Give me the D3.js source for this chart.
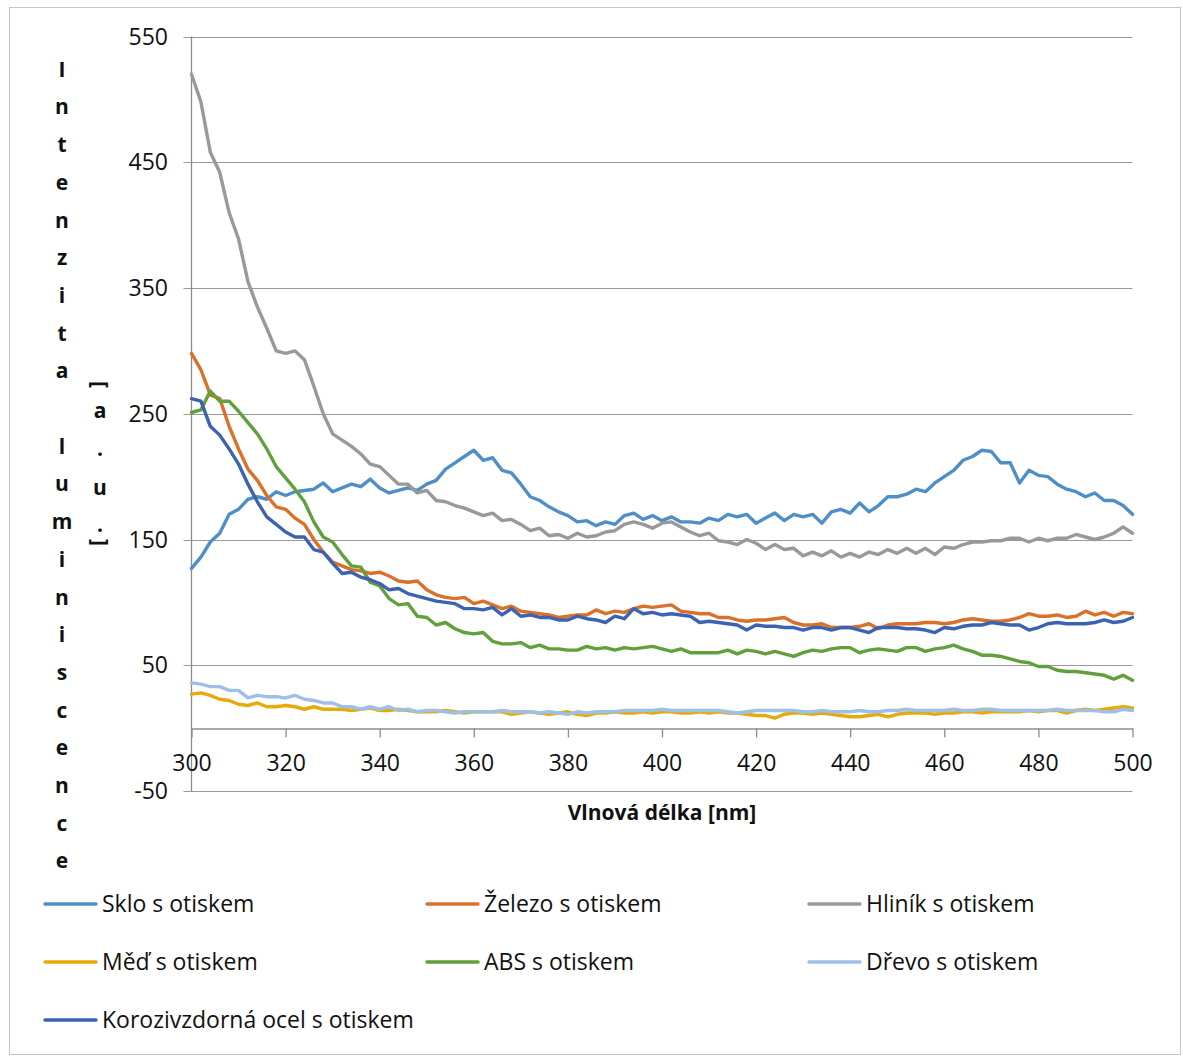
<!DOCTYPE html>
<html><head><meta charset="utf-8">
<script src="https://cdn.jsdelivr.net/npm/d3@7"></script>
<style>
html,body{margin:0;padding:0;background:#fff;}
svg text{font-family:"Open Sans","Noto Sans",sans-serif;}
</style></head>
<body>
<svg id="chart" width="1183" height="1059"></svg>
<script>
const wavelengths = [300,302,304,306,308,310,312,314,316,318,320,322,324,326,328,330,332,334,336,338,340,342,344,346,348,350,352,354,356,358,360,362,364,366,368,370,372,374,376,378,380,382,384,386,388,390,392,394,396,398,400,402,404,406,408,410,412,414,416,418,420,422,424,426,428,430,432,434,436,438,440,442,444,446,448,450,452,454,456,458,460,462,464,466,468,470,472,474,476,478,480,482,484,486,488,490,492,494,496,498,500];

const seriesNames = ["Sklo s otiskem","Železo s otiskem","Hliník s otiskem","Měď s otiskem","ABS s otiskem","Dřevo s otiskem","Korozivzdorná ocel s otiskem"];
const seriesColors = ["#4f8fc8","#d9712b","#999999","#e6ab0a","#62a03b","#9dc0e6","#3c63b0"];

const skloValues = [127,136,148,155,170,174,182,184,182,188,185,188,189,190,195,188,191,194,192,198,191,187,189,191,189,194,197,206,211,216,221,213,215,205,203,194,184,181,176,172,169,164,165,161,164,162,169,171,166,169,165,168,164,164,163,167,165,170,168,170,163,167,171,165,170,168,170,163,172,174,171,179,172,177,184,184,186,190,188,195,200,205,213,216,221,220,211,211,195,205,201,200,194,190,188,184,187,181,181,177,170];
const zelezoValues = [298,285,265,262,240,222,206,197,185,176,174,167,162,150,140,132,129,126,125,123,124,121,117,116,117,110,106,104,103,104,99,101,98,95,97,93,92,91,90,88,89,90,90,94,91,93,92,95,97,96,97,98,93,92,91,91,88,88,86,85,86,86,87,88,84,82,82,83,80,80,80,81,83,79,82,83,83,83,84,84,83,84,86,87,86,85,85,86,88,91,89,89,90,88,89,93,90,92,89,92,91];
const hlinikValues = [520,498,458,442,410,389,355,335,318,300,298,300,293,272,250,234,229,224,218,210,208,201,194,194,187,189,181,180,177,175,172,169,171,165,166,162,157,159,153,154,151,155,152,153,156,157,162,164,162,159,163,164,160,156,153,155,149,148,146,150,147,142,146,142,143,137,140,137,141,136,139,136,140,138,142,139,143,139,143,138,144,143,146,148,148,149,149,151,151,148,151,149,151,151,154,152,150,152,155,160,155];
const medValues = [27,28,26,23,22,19,18,20,17,17,18,17,15,17,15,15,15,14,15,16,14,14,15,14,13,13,13,14,13,12,13,13,13,13,11,12,13,12,11,12,13,11,10,12,12,13,12,12,13,12,13,13,12,12,13,12,13,12,12,11,10,10,8,11,12,12,11,12,11,10,9,9,10,11,9,11,12,12,12,11,12,12,13,13,12,13,13,13,13,14,13,14,14,12,14,15,14,15,16,17,16];
const absValues = [251,253,268,260,260,252,243,234,222,208,199,190,180,164,152,148,138,129,128,116,113,103,98,99,89,88,82,84,79,76,75,76,69,67,67,68,64,66,63,63,62,62,65,63,64,62,64,63,64,65,63,61,63,60,60,60,60,62,59,62,61,59,61,59,57,60,62,61,63,64,64,60,62,63,62,61,64,64,61,63,64,66,63,61,58,58,57,55,53,52,49,49,46,45,45,44,43,42,39,42,38];
const drevoValues = [36,35,33,33,30,30,24,26,25,25,24,26,23,22,20,20,17,17,15,17,15,17,14,15,13,14,14,13,12,13,13,13,13,14,13,13,13,12,13,12,11,13,12,13,13,13,14,14,14,14,15,14,14,14,14,14,14,13,12,13,14,14,14,14,14,13,13,14,13,13,13,14,13,13,14,14,15,14,14,14,14,15,14,14,15,15,14,14,14,14,14,14,15,14,14,14,14,13,13,15,14];
const koroziValues = [262,260,240,233,222,210,194,180,168,162,156,152,152,142,140,131,123,124,120,118,115,110,111,107,105,103,101,100,99,95,95,94,96,90,95,89,90,88,88,86,86,89,87,86,84,89,87,95,91,92,90,91,90,89,84,85,84,83,82,78,82,81,81,80,80,78,80,80,78,80,80,78,76,80,80,80,79,79,78,76,80,79,81,82,82,84,83,82,82,78,80,83,84,83,83,83,84,86,84,85,88];

const xTicks = [300,320,340,360,380,400,420,440,460,480,500];
const yTicks = [-50,50,150,250,350,450,550];
const yTitleMain = "Intenzita luminiscence";
const yTitleUnit = "[a.u.]";
const xTitle = "Vlnová délka [nm]";

const allValues = [skloValues,zelezoValues,hlinikValues,medValues,absValues,drevoValues,koroziValues];

(function(){
const svg = d3.select("#chart");
const pLeft = 191.5, pRight = 1132.5, pTop = 36.5, pBottom = 791;

svg.append("rect").attr("x",9.5).attr("y",7.5).attr("width",1171).attr("height",1047)
  .attr("fill","#fff").attr("stroke","#c6c6c6").attr("stroke-width",1);

const x = d3.scaleLinear().domain([300,500]).range([pLeft,pRight]);
const y = d3.scaleLinear().domain([-50,550]).range([pBottom,pTop]);

// gridlines
svg.append("g").selectAll("line").data(yTicks).join("line")
  .attr("x1",pLeft-8).attr("x2",pRight)
  .attr("y1",d=>Math.round(y(d))+0.5).attr("y2",d=>Math.round(y(d))+0.5)
  .attr("stroke","#9a9a9a").attr("stroke-width",1.2);

// y axis line
svg.append("line").attr("x1",pLeft).attr("x2",pLeft).attr("y1",pTop).attr("y2",pBottom)
  .attr("stroke","#8c8c8c").attr("stroke-width",1.3);

// y tick labels
svg.append("g").selectAll("text").data(yTicks).join("text")
  .attr("x",168).attr("y",d=>y(d)).attr("dy","0.35em")
  .attr("text-anchor","end").attr("font-size",23).attr("fill","#111")
  .text(d=>d);

// x axis at 0
const y0 = Math.round(y(0))+0.5;
const xAxis = d3.axisBottom(x).tickValues(xTicks).tickSize(9).tickSizeOuter(0).tickFormat(d=>d);
const gx = svg.append("g").attr("transform",`translate(0,${y0})`).call(xAxis);
gx.select(".domain").attr("stroke","#8c8c8c").attr("stroke-width",1.3);
gx.selectAll(".tick line").attr("stroke","#8c8c8c").attr("stroke-width",1.3);
gx.selectAll(".tick text").attr("font-size",23).attr("fill","#111")
  .attr("font-family","'Open Sans',sans-serif").attr("y",34).attr("dy","0.35em");

// series lines
const line = d3.line().x((d,i)=>x(wavelengths[i])).y(d=>y(d));
svg.append("g").selectAll("path").data(allValues).join("path")
  .attr("d",d=>line(d)).attr("fill","none")
  .attr("stroke",(d,i)=>seriesColors[i]).attr("stroke-width",3.4)
  .attr("stroke-linejoin","round").attr("stroke-linecap","round");

// x title
svg.append("text").attr("x",662).attr("y",813).attr("dy","0.35em")
  .attr("text-anchor","middle").attr("font-size",21).attr("font-weight","bold").attr("fill","#111")
  .text(xTitle);

// y title, stacked
const colA = svg.append("g");
yTitleMain.split("").forEach((ch,k)=>{
  if(ch===" ") return;
  colA.append("text").attr("x",62).attr("y",76.7+37.7*k)
    .attr("text-anchor","middle").attr("font-size",21).attr("font-weight","bold").attr("fill","#111")
    .text(ch);
});
const colB = svg.append("g");
const unitChars = yTitleUnit.split("");
const unitBase = [384.5, 418.3, 456, 494.5, 532, 542.5];
unitChars.forEach((ch,k)=>{
  if(ch==="["||ch==="]"){
    colB.append("text").attr("x",0).attr("y",0).attr("dy","0.32em")
      .attr("text-anchor","middle").attr("font-size",21).attr("font-weight","bold").attr("fill","#111")
      .attr("transform",`translate(100,${unitBase[k]}) rotate(90)`)
      .text(ch);
  } else {
    colB.append("text").attr("x",100).attr("y",unitBase[k])
      .attr("text-anchor","middle").attr("font-size",21).attr("font-weight","bold").attr("fill","#111")
      .text(ch);
  }
});

// legend
const legendPos = [[45,904],[427,904],[809,904],[45,962],[427,962],[809,962],[45,1020]];
const lg = svg.append("g");
seriesNames.forEach((name,i)=>{
  const [lx,ly] = legendPos[i];
  lg.append("line").attr("x1",lx).attr("x2",lx+51).attr("y1",ly).attr("y2",ly)
    .attr("stroke",seriesColors[i]).attr("stroke-width",3.5).attr("stroke-linecap","round");
  lg.append("text").attr("x",lx+57).attr("y",ly).attr("dy","0.35em")
    .attr("font-size",23).attr("fill","#111").text(name);
});
})();
</script>
</body></html>
